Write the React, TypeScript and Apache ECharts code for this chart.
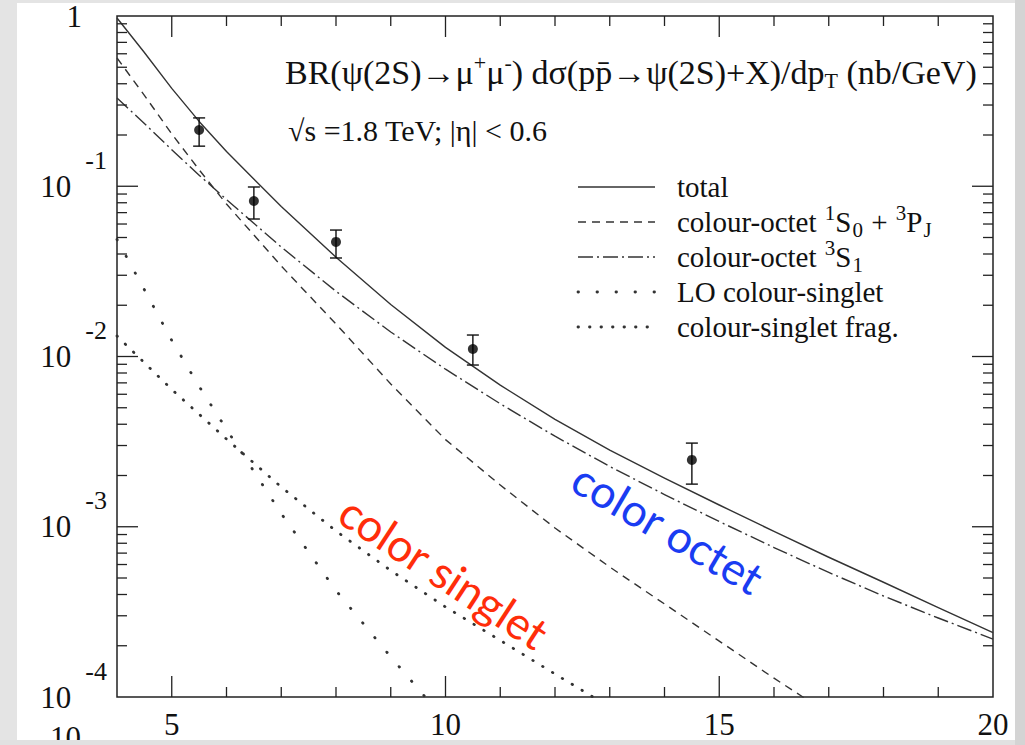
import React, { useEffect, useRef } from 'react';
import * as echarts from 'echarts';

// ---- data ----
const X_MIN = 4;
const X_MAX = 20;
const Y_MIN = 1e-4;
const Y_MAX = 1;

const pTGrid = [4, 4.5, 5, 5.5, 6, 7, 8, 9, 10, 11, 12, 13, 14, 15, 16, 17, 18, 19, 20];
const totalVals = [0.973, 0.61, 0.3756, 0.2403, 0.1598, 0.076, 0.03832, 0.0202, 0.01131, 0.006785, 0.004276, 0.002823, 0.001933, 0.001342, 0.000939, 0.000662, 0.000472, 0.000335, 0.000239];
const octet3S1Vals = [0.33, 0.2339, 0.1639, 0.1162, 0.0835, 0.04396, 0.02415, 0.01393, 0.00842, 0.00528, 0.003402, 0.002259, 0.001546, 0.001073, 0.000755, 0.000539, 0.000392, 0.000291, 0.000219];

const pTDashed = [4, 4.5, 5, 5.5, 6, 7, 8, 9, 10, 11, 12, 13, 14, 15, 16, 16.5, 17];
const octet1S0Vals = [0.5667, 0.3421, 0.203, 0.1249, 0.0786, 0.034, 0.01552, 0.006896, 0.00325, 0.001758, 0.000983, 0.00058, 0.000352, 0.000213, 0.000129, 0.0001014, 0.0000784];

const pTLO = [4, 4.5, 5, 5.5, 6, 7, 8, 9, 10];
const loSingletVals = [0.04866, 0.02468, 0.01243, 0.006675, 0.003741, 0.001195, 0.000422, 0.000172, 0.0000727];

const pTFrag = [4, 5, 6, 7, 8, 9, 10, 11, 12, 13];
const fragVals = [0.01319, 0.006408, 0.003272, 0.001712, 0.000944, 0.000553, 0.000338, 0.000215, 0.0001365, 0.0000873];

const dataX = [5.5, 6.5, 8, 10.5, 14.5];
const dataY = [0.214, 0.0819, 0.0471, 0.01107, 0.00247];
const dataLo = [0.172, 0.0642, 0.0379, 0.00891, 0.00178];
const dataHi = [0.252, 0.099, 0.0553, 0.01337, 0.0031];

const xMajorTicks = [5, 10, 15];
const xMinorTicks = [6, 7, 8, 9, 11, 12, 13, 14, 16, 17, 18, 19];
const yMajorTicks = [0.1, 0.01, 0.001];
const yMinorTicks = [
  0.9, 0.8, 0.7, 0.6, 0.5, 0.4, 0.3, 0.2,
  0.09, 0.08, 0.07, 0.06, 0.05, 0.04, 0.03, 0.02,
  0.009, 0.008, 0.007, 0.006, 0.005, 0.004, 0.003, 0.002,
  0.0009, 0.0008, 0.0007, 0.0006, 0.0005, 0.0004, 0.0003, 0.0002,
];

const legendLabels = [
  'total',
  'colour-octet {sp|1}S{sb|0} + {sp|3}P{sb|J}',
  'colour-octet {sp|3}S{sb|1}',
  'LO colour-singlet',
  'colour-singlet frag.',
];

const SERIF = '"Liberation Serif", "Times New Roman", serif';
const INK = '#111';
const LINE = '#333';

const zip = (xs: number[], ys: number[]) => xs.map((x, i) => [x, ys[i]]);

export default function App() {
  const ref = useRef<HTMLDivElement>(null);

  useEffect(() => {
    document.body.style.margin = '0';
    const chart = echarts.init(ref.current!, null, { renderer: 'svg' });

    const dashStyles: any[] = [
      { lineDash: null, lineWidth: 1.4, lineCap: 'butt' },
      { lineDash: [8, 6], lineWidth: 1.4, lineCap: 'butt' },
      { lineDash: [15, 4, 2, 4], lineWidth: 1.4, lineCap: 'butt' },
      { lineDash: [0.5, 18.5], lineWidth: 2.8, lineCap: 'round' },
      { lineDash: [0.5, 11], lineWidth: 2.8, lineCap: 'round' },
    ];
    const rowY = [187, 222, 257, 292, 327];

    const legendGraphics: any[] = [];
    legendLabels.forEach((lab, i) => {
      const ds = dashStyles[i];
      legendGraphics.push({
        type: 'line',
        shape: { x1: 578, y1: rowY[i], x2: 655, y2: rowY[i] },
        style: { stroke: LINE, lineWidth: ds.lineWidth, lineDash: ds.lineDash, lineCap: ds.lineCap },
      });
      legendGraphics.push({
        type: 'text',
        x: 677,
        y: rowY[i],
        style: {
          text: lab,
          fill: INK,
          fontSize: 29,
          fontFamily: SERIF,
          align: 'left',
          verticalAlign: 'middle',
          textAlign: 'left',
          textVerticalAlign: 'middle',
          rich: {
            sp: { fontSize: 21, fontFamily: SERIF, fill: INK, padding: [0, 0, 18, 1], verticalAlign: 'middle' },
            sb: { fontSize: 21, fontFamily: SERIF, fill: INK, padding: [15, 1, 0, 1], verticalAlign: 'middle' },
          },
        },
      });
    });

    const lineSeries = (name: string, xs: number[], ys: number[], type: any, width: number, cap: any) => ({
      name,
      type: 'line',
      data: zip(xs, ys),
      showSymbol: false,
      smooth: false,
      clip: true,
      silent: true,
      lineStyle: { color: LINE, width, type, cap, join: 'round' },
      z: 3,
    });

    const option: any = {
      animation: false,
      backgroundColor: '#ffffff',
      grid: {
        left: 117,
        top: 16,
        width: 876,
        height: 681,
        show: true,
        borderColor: '#222',
        borderWidth: 1.5,
        backgroundColor: 'transparent',
        containLabel: false,
      },
      xAxis: {
        type: 'value',
        min: X_MIN,
        max: X_MAX,
        interval: 1,
        axisLine: { show: false },
        axisTick: { show: false },
        splitLine: { show: false },
        axisLabel: {
          showMinLabel: true,
          showMaxLabel: true,
          margin: 12,
          fontSize: 31,
          fontFamily: SERIF,
          color: INK,
          formatter: (v: number) => (Math.round(v) % 5 === 0 ? String(Math.round(v)) : ''),
        },
      },
      yAxis: {
        type: 'log',
        logBase: 10,
        min: Y_MIN,
        max: Y_MAX,
        axisLine: { show: false },
        axisTick: { show: false },
        splitLine: { show: false },
        axisLabel: {
          margin: 10,
          color: INK,
          formatter: (v: number) => {
            const e = Math.round(Math.log10(v));
            return e === 0 ? '{one|1}' : `{b|10}{s|${e}}`;
          },
          rich: {
            one: { fontSize: 31, fontFamily: SERIF, color: INK, padding: [0, 25, 0, 0], verticalAlign: 'middle' },
            b: { fontSize: 31, fontFamily: SERIF, color: INK, verticalAlign: 'middle' },
            s: { fontSize: 26, fontFamily: SERIF, color: INK, padding: [0, 0, 52, 14], verticalAlign: 'middle' },
          },
        },
      },
      series: [
        lineSeries('total', pTGrid, totalVals, 'solid', 1.4, 'butt'),
        lineSeries('colour-octet 1S0 + 3PJ', pTDashed, octet1S0Vals, [8, 6], 1.4, 'butt'),
        lineSeries('colour-octet 3S1', pTGrid, octet3S1Vals, [15, 4, 2, 4], 1.4, 'butt'),
        lineSeries('LO colour-singlet', pTLO, loSingletVals, [0.5, 18.5], 2.8, 'round'),
        lineSeries('colour-singlet frag.', pTFrag, fragVals, [0.5, 11], 2.8, 'round'),
        {
          name: 'data',
          type: 'scatter',
          data: zip(dataX, dataY),
          symbol: 'circle',
          symbolSize: 10,
          itemStyle: { color: '#000' },
          silent: true,
          z: 5,
        },
        {
          name: 'errors',
          type: 'custom',
          silent: true,
          data: dataX.map((x, i) => [x, dataY[i], dataLo[i], dataHi[i]]),
          renderItem: (params: any, api: any) => {
            const x = api.value(0);
            const lo = api.coord([x, api.value(2)]);
            const hi = api.coord([x, api.value(3)]);
            const st = { stroke: '#111', lineWidth: 1.4 };
            return {
              type: 'group',
              children: [
                { type: 'line', shape: { x1: lo[0], y1: lo[1], x2: hi[0], y2: hi[1] }, style: st },
                { type: 'line', shape: { x1: lo[0] - 6, y1: lo[1], x2: lo[0] + 6, y2: lo[1] }, style: st },
                { type: 'line', shape: { x1: hi[0] - 6, y1: hi[1], x2: hi[0] + 6, y2: hi[1] }, style: st },
              ],
            };
          },
          z: 4,
        },
        {
          name: 'xticks',
          type: 'custom',
          silent: true,
          clip: false,
          data: xMajorTicks.map((v) => [v, Y_MIN, 21]).concat(xMinorTicks.map((v) => [v, Y_MIN, 10])),
          renderItem: (params: any, api: any) => {
            const x = api.value(0);
            const len = api.value(2);
            const b = api.coord([x, Y_MIN]);
            const t = api.coord([x, Y_MAX]);
            const st = { stroke: '#222', lineWidth: 1.3 };
            return {
              type: 'group',
              children: [
                { type: 'line', shape: { x1: b[0], y1: b[1], x2: b[0], y2: b[1] - len }, style: st },
                { type: 'line', shape: { x1: t[0], y1: t[1], x2: t[0], y2: t[1] + len }, style: st },
              ],
            };
          },
          z: 6,
        },
        {
          name: 'yticks',
          type: 'custom',
          silent: true,
          clip: false,
          data: yMajorTicks.map((v) => [X_MIN, v, 21]).concat(yMinorTicks.map((v) => [X_MIN, v, 10])),
          renderItem: (params: any, api: any) => {
            const v = api.value(1);
            const len = api.value(2);
            const l = api.coord([X_MIN, v]);
            const r = api.coord([X_MAX, v]);
            const st = { stroke: '#222', lineWidth: 1.3 };
            return {
              type: 'group',
              children: [
                { type: 'line', shape: { x1: l[0], y1: l[1], x2: l[0] + len, y2: l[1] }, style: st },
                { type: 'line', shape: { x1: r[0], y1: r[1], x2: r[0] - len, y2: r[1] }, style: st },
              ],
            };
          },
          z: 6,
        },
      ],
      graphic: {
        elements: [
          {
            type: 'text',
            x: 285,
            y: 72,
            style: {
              text: 'BR(ψ(2S)→μ{sp|+}μ{sp|-}) dσ(pp\u0304→ψ(2S)+X)/dp{sb|T} (nb/GeV)',
              fill: INK,
              fontSize: 34,
              fontFamily: SERIF,
              align: 'left',
              verticalAlign: 'middle',
              textAlign: 'left',
              textVerticalAlign: 'middle',
              rich: {
                sp: { fontSize: 22, fontFamily: SERIF, fill: INK, padding: [0, 0, 20, 0], verticalAlign: 'middle' },
                sb: { fontSize: 22, fontFamily: SERIF, fill: INK, padding: [16, 0, 0, 0], verticalAlign: 'middle' },
              },
            },
          },
          {
            type: 'text',
            x: 288,
            y: 130,
            style: {
              text: '√s =1.8 TeV; |η| < 0.6',
              fill: INK,
              fontSize: 30,
              fontFamily: SERIF,
              align: 'left',
              verticalAlign: 'middle',
              textAlign: 'left',
              textVerticalAlign: 'middle',
            },
          },
          ...legendGraphics,
          {
            type: 'text',
            x: 668,
            y: 528,
            rotation: -0.53,
            style: {
              text: 'color octet',
              fill: '#1a3cf2',
              fontSize: 45,
              fontFamily: 'Lato, "Open Sans", sans-serif',
              align: 'center',
              verticalAlign: 'middle',
              textAlign: 'center',
              textVerticalAlign: 'middle',
            },
          },
          {
            type: 'text',
            x: 444,
            y: 572,
            rotation: -0.58,
            style: {
              text: 'color singlet',
              fill: '#ff2d0a',
              fontSize: 45,
              fontFamily: 'Lato, "Open Sans", sans-serif',
              align: 'center',
              verticalAlign: 'middle',
              textAlign: 'center',
              textVerticalAlign: 'middle',
            },
          },
          {
            type: 'text',
            x: 50,
            y: 722,
            z: 5,
            style: {
              text: '10',
              fill: INK,
              fontSize: 31,
              fontFamily: SERIF,
              align: 'left',
              verticalAlign: 'top',
              textAlign: 'left',
              textVerticalAlign: 'top',
            },
          },
          { type: 'rect', z: 10, shape: { x: 0, y: 0, width: 17, height: 745 }, style: { fill: '#e4e4e4' } },
          { type: 'rect', z: 10, shape: { x: 0, y: 0, width: 1025, height: 3 }, style: { fill: '#e4e4e4' } },
          { type: 'rect', z: 10, shape: { x: 0, y: 740, width: 1025, height: 5 }, style: { fill: '#e1e1e1' } },
          { type: 'rect', z: 10, shape: { x: 1015, y: 0, width: 10, height: 745 }, style: { fill: '#d4d4d4' } },
        ],
      },
    };

    chart.setOption(option);
    return () => chart.dispose();
  }, []);

  return (
    <div
      ref={ref}
      style={{ position: 'absolute', left: 0, top: 0, width: 1025, height: 745 }}
    />
  );
}
